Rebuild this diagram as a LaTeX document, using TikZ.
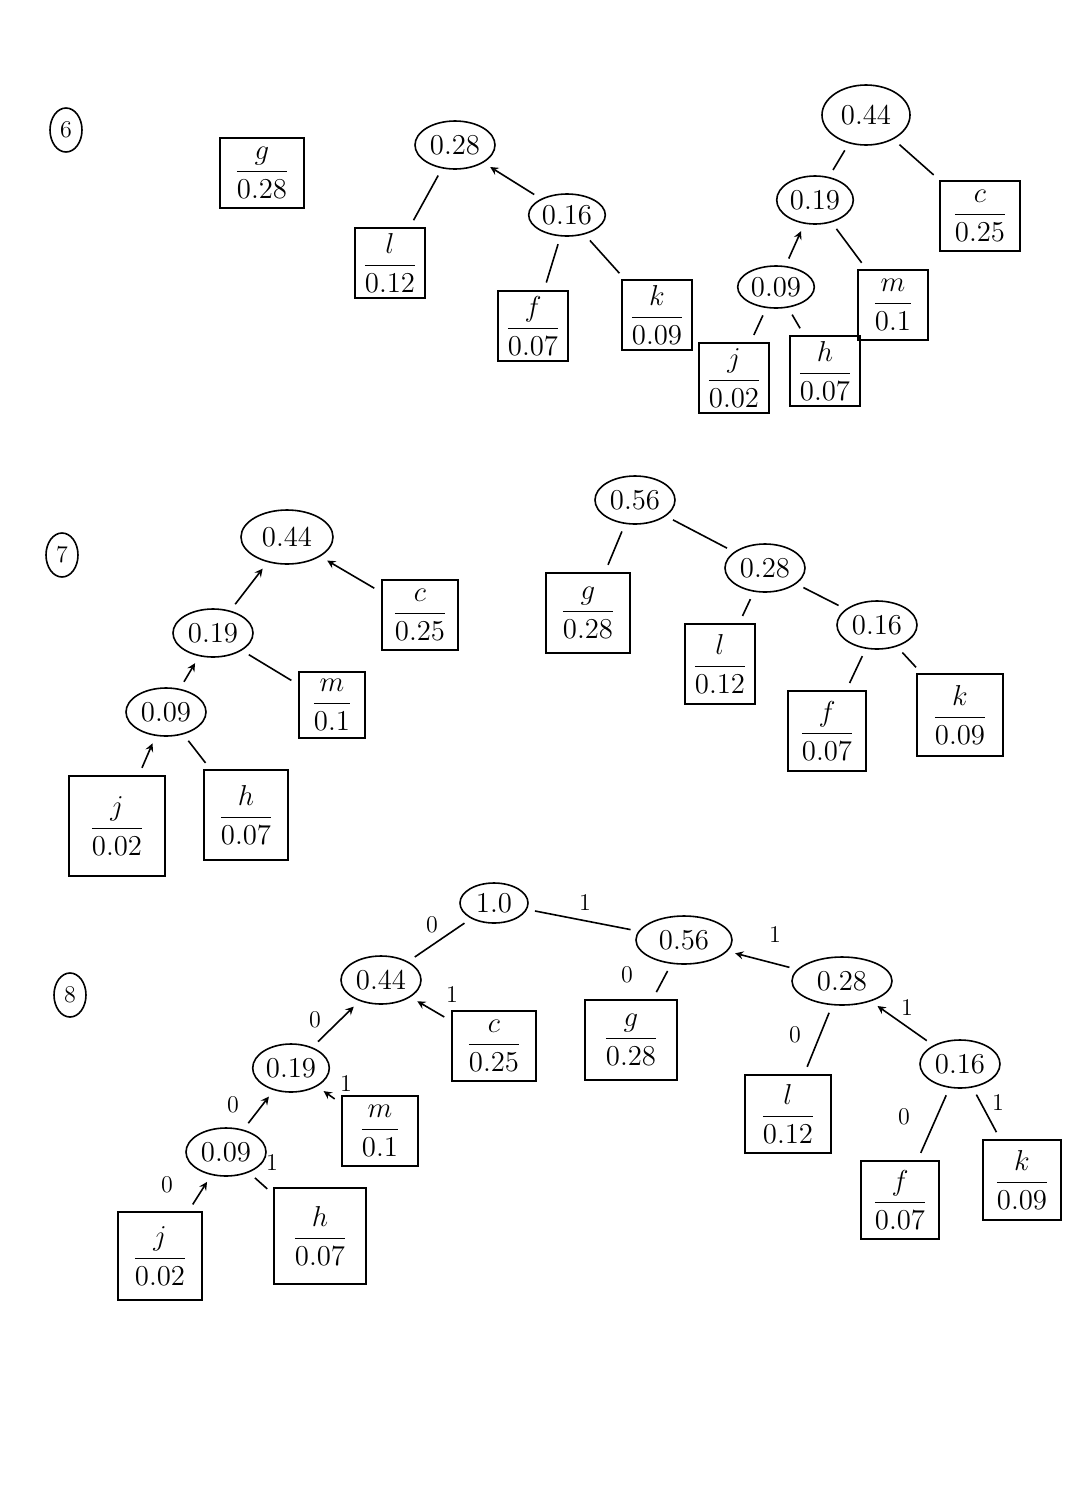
\documentclass[tikz,border=0pt]{standalone}
\usepackage{amsmath}
\usetikzlibrary{shapes.geometric}

\tikzset{
  sum/.style={ellipse, draw, thick, minimum width=40pt, minimum height=24pt, inner sep=1pt, font=\Large},
  leaf/.style={rectangle, draw, thick, minimum width=35pt, minimum height=35pt, inner sep=0pt, font=\Large},
  tag/.style={ellipse, draw, thick, minimum width=16pt, minimum height=22pt, inner sep=0pt, font=\large},
  bit/.style={font=\large},
  link/.style={thick, shorten <=4pt, shorten >=4pt}
}
\newcommand{\lf}[2]{$\dfrac{#1}{#2}$}

\begin{document}
\begin{tikzpicture}[x=0.5pt, y=-0.5pt]
    \useasboundingbox (0,0) rectangle (1076,1490);

    % Schritt 6
    \node[tag] (t6) at (66,130) {6};
    \node[leaf, minimum width=42pt] (a6g) at (262,173) {\lf{g}{0.28}};
    \node[sum] (a6r) at (455,145) {0.28};
    \node[leaf] (a6l) at (390,263) {\lf{l}{0.12}};
    \node[sum, minimum width=34pt, minimum height=21pt] (a6s) at (567,215) {0.16};
    \node[leaf] (a6f) at (533,326) {\lf{f}{0.07}};
    \node[leaf] (a6k) at (657,315) {\lf{k}{0.09}};
    \draw[link] (a6r) -- (a6l);
    \draw[link, ->, >=stealth] (a6s) -- (a6r);
    \draw[link] (a6s) -- (a6f);
    \draw[link] (a6s) -- (a6k);

    \node[sum, minimum width=44pt, minimum height=30pt] (b6r) at (866,115) {0.44};
    \node[sum, minimum width=36pt] (b6a) at (815,200) {0.19};
    \node[leaf, minimum width=40pt] (b6c) at (980,216) {\lf{c}{0.25}};
    \node[sum, minimum width=36pt, minimum height=21pt] (b6b) at (776,287) {0.09};
    \node[leaf] (b6m) at (893,305) {\lf{m}{0.1}};
    \node[leaf] (b6j) at (734,378) {\lf{j}{0.02}};
    \node[leaf] (b6h) at (825,371) {\lf{h}{0.07}};
    \draw[link] (b6r) -- (b6a);
    \draw[link] (b6r) -- (b6c);
    \draw[link, ->, >=stealth] (b6b) -- (b6a);
    \draw[link] (b6a) -- (b6m);
    \draw[link] (b6b) -- (b6j);
    \draw[link] (b6b) -- (b6h);

    % Schritt 7
    \node[tag] (t7) at (62,555) {7};
    \node[sum, minimum width=46pt, minimum height=27pt] (a7r) at (287,537) {0.44};
    \node[sum] (a7a) at (213,633) {0.19};
    \node[leaf, minimum width=38pt] (a7c) at (420,615) {\lf{c}{0.25}};
    \node[sum] (a7b) at (166,712) {0.09};
    \node[leaf, minimum width=33pt, minimum height=33pt] (a7m) at (332,705) {\lf{m}{0.1}};
    \node[leaf, minimum width=48pt, minimum height=50pt] (a7j) at (117,826) {\lf{j}{0.02}};
    \node[leaf, minimum width=42pt, minimum height=45pt] (a7h) at (246,815) {\lf{h}{0.07}};
    \draw[link, ->, >=stealth] (a7a) -- (a7r);
    \draw[link, ->, >=stealth] (a7c) -- (a7r);
    \draw[link, ->, >=stealth] (a7b) -- (a7a);
    \draw[link] (a7a) -- (a7m);
    \draw[link, ->, >=stealth] (a7j) -- (a7b);
    \draw[link] (a7b) -- (a7h);

    \node[sum] (b7r) at (635,500) {0.56};
    \node[leaf, minimum width=42pt, minimum height=40pt] (b7g) at (588,613) {\lf{g}{0.28}};
    \node[sum] (b7a) at (765,568) {0.28};
    \node[leaf, minimum height=40pt] (b7l) at (720,664) {\lf{l}{0.12}};
    \node[sum] (b7b) at (877,625) {0.16};
    \node[leaf, minimum width=39pt, minimum height=40pt] (b7f) at (827,731) {\lf{f}{0.07}};
    \node[leaf, minimum width=43pt, minimum height=41pt] (b7k) at (960,715) {\lf{k}{0.09}};
    \draw[link] (b7r) -- (b7g);
    \draw[link] (b7r) -- (b7a);
    \draw[link] (b7a) -- (b7l);
    \draw[link] (b7a) -- (b7b);
    \draw[link] (b7b) -- (b7f);
    \draw[link] (b7b) -- (b7k);

    % Schritt 8
    \node[tag] (t8) at (70,995) {8};
    \node[sum, minimum width=34pt, minimum height=20pt] (c8r) at (494,903) {1.0};
    \node[sum] (c8a) at (381,980) {0.44};
    \node[leaf, minimum width=42pt] (c8c) at (494,1046) {\lf{c}{0.25}};
    \node[sum, minimum width=36pt] (c8b) at (291,1068) {0.19};
    \node[leaf, minimum width=38pt] (c8m) at (380,1131) {\lf{m}{0.1}};
    \node[sum] (c8d) at (226,1152) {0.09};
    \node[leaf, minimum width=42pt, minimum height=44pt] (c8j) at (160,1256) {\lf{j}{0.02}};
    \node[leaf, minimum width=46pt, minimum height=48pt] (c8h) at (320,1236) {\lf{h}{0.07}};
    \node[sum, minimum width=48pt] (c8e) at (684,940) {0.56};
    \node[leaf, minimum width=46pt, minimum height=40pt] (c8g) at (631,1040) {\lf{g}{0.28}};
    \node[sum, minimum width=50pt] (c8f) at (842,981) {0.28};
    \node[leaf, minimum width=43pt, minimum height=39pt] (c8l) at (788,1114) {\lf{l}{0.12}};
    \node[sum] (c8s) at (960,1064) {0.16};
    \node[leaf, minimum width=39pt, minimum height=39pt] (c8ff) at (900,1200) {\lf{f}{0.07}};
    \node[leaf, minimum width=39pt, minimum height=40pt] (c8k) at (1022,1180) {\lf{k}{0.09}};
    \draw[link] (c8r) -- (c8a);
    \draw[link] (c8r) -- (c8e);
    \draw[link, ->, >=stealth] (c8b) -- (c8a);
    \draw[link, ->, >=stealth] (c8c) -- (c8a);
    \draw[link, ->, >=stealth] (c8d) -- (c8b);
    \draw[link, ->, >=stealth] (c8m) -- (c8b);
    \draw[link, ->, >=stealth] (c8j) -- (c8d);
    \draw[link] (c8d) -- (c8h);
    \draw[link] (c8e) -- (c8g);
    \draw[link, ->, >=stealth] (c8f) -- (c8e);
    \draw[link] (c8f) -- (c8l);
    \draw[link, ->, >=stealth] (c8s) -- (c8f);
    \draw[link] (c8s) -- (c8ff);
    \draw[link] (c8s) -- (c8k);

    % Bits an den Kanten
    \node[bit] (n1) at (432,925) {0};
    \node[bit] (n2) at (585,903) {1};
    \node[bit] (n3) at (315,1020) {0};
    \node[bit] (n4) at (452,995) {1};
    \node[bit] (n5) at (233,1105) {0};
    \node[bit] (n6) at (346,1084) {1};
    \node[bit] (n7) at (167,1185) {0};
    \node[bit] (n8) at (272,1163) {1};
    \node[bit] (n9) at (627,975) {0};
    \node[bit] (n10) at (775,935) {1};
    \node[bit] (n11) at (795,1035) {0};
    \node[bit] (n12) at (907,1008) {1};
    \node[bit] (n13) at (904,1117) {0};
    \node[bit] (n14) at (998,1103) {1};
\end{tikzpicture}
\end{document}
